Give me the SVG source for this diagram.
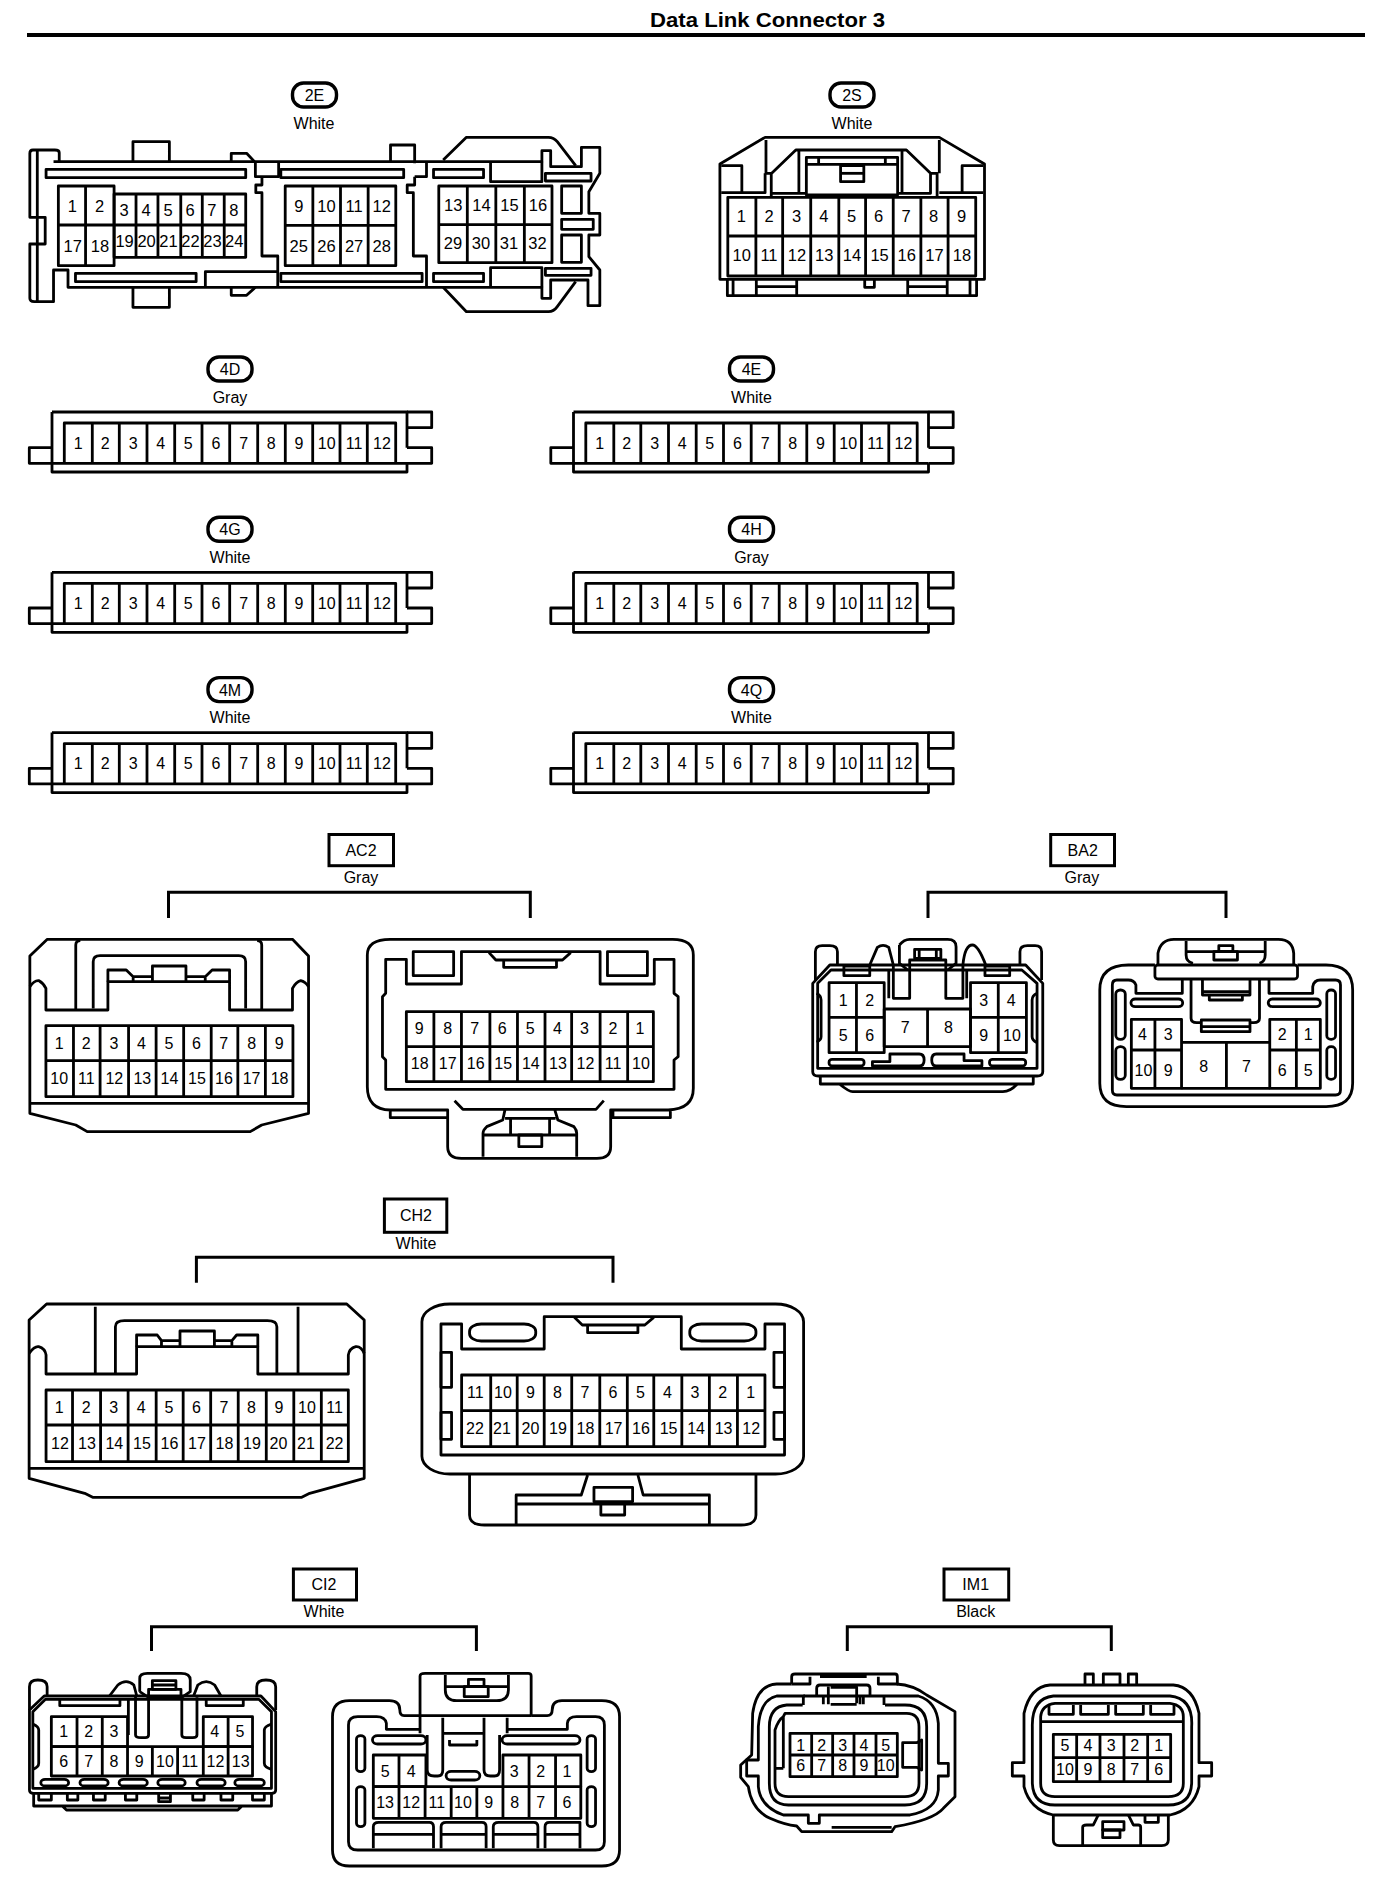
<svg xmlns="http://www.w3.org/2000/svg" width="1376" height="1884" viewBox="0 0 1376 1884">
<style>
.s,.s *{fill:none;stroke:#000;stroke-width:2.8;vector-effect:non-scaling-stroke;stroke-linejoin:round}
text{font-family:"Liberation Sans",Arial,sans-serif;fill:#000;text-anchor:middle;font-size:16px}
.m text{font-size:16.5px}
.h{font-weight:bold;font-size:21px}
.b{fill:none;stroke:#000;stroke-width:3.2}
.p{fill:none;stroke:#000;stroke-width:3.4}
.l{fill:none;stroke:#000;stroke-width:3}
</style>
<defs>
<g id="p12" class="s">
<path d="M52 412H407V447.7M407 463.300V472H52V412M52 447.700H29.300V463.300H407M64.300 463V423H395.700V463"/>
<path d="M92.300 423V463M119.300 423V463M147 423V463M174.700 423V463M202 423V463M229.700 423V463M257.700 423V463M285.300 423V463M312.700 423V463M340 423V463M367.300 423V463"/>
<path d="M407 412H431.700V427.700H407M407 447.700H431.700V463.300H407"/>
</g>
</defs>
<rect width="1376" height="1884" fill="#fff"/>
<g id="title">
<text class="h" x="767.500" y="27" textLength="235" lengthAdjust="spacingAndGlyphs">Data Link Connector 3</text>
<path d="M27 35H1365" stroke="#000" stroke-width="4" fill="none"/>
</g>
<g id="connectors">
<path class="l" d="M168.500 918V892.300H530.300V918"/>
<path class="l" d="M928 918V892.300H1226V918"/>
<path class="l" d="M196.400 1282.700V1257.300H613V1282.700"/>
<path class="l" d="M151.500 1651V1626.700H476.400V1651"/>
<path class="l" d="M847.300 1651V1626.700H1111.300V1651"/>
</g>

<g id="node-2E">
<rect class="p" x="292.500" y="83" width="44" height="24" rx="11"/>
<text x="314.500" y="101">2E</text><text x="314" y="129">White</text>
<g class="s" transform="scale(.43879 .33333)">
<path d="M135 488V458Q135 450 125 450H75Q68 450 68 460V652H103V732H68V895Q68 905 78 905H122V810H155V862H1235V895H1255V840H1340V917H1367V810L1342 770V705H1367V640H1342V575L1367 520V442H1325V500H1255V452H1235V485H122"/>
<path d="M85 452V905M303 485V425H386V485M890 485V435H945V490M527 485V460H562L582 488M303 862V922H386V862M527 862V886H562L582 862"/>
<rect x="105" y="508" width="455" height="25"/><rect x="640" y="508" width="280" height="25"/><rect x="988" y="508" width="114" height="25"/>
<rect x="172" y="820" width="275" height="25"/><rect x="640" y="820" width="322" height="25"/><rect x="988" y="820" width="114" height="25"/>
<path d="M582 488V530H635V485M597 530V555H583V578H597V768H633V862M945 530V555H928V578H942V768H972V862M972 485V530H945M468 862V815H633"/>
<rect x="133" y="558" width="127" height="239"/><rect x="260" y="582" width="300" height="190"/>
<path d="M133 675H560M195 558V797M310 582V772M360 582V772M412 582V772M461 582V772M511 582V772"/>
<rect x="650" y="558" width="252" height="239"/><path d="M650 676H902M713 558V797M776 558V797M839 558V797"/>
<rect x="1000" y="558" width="258" height="230"/><path d="M1000 674H1258M1065 558V788M1130 558V788M1195 558V788"/>
<path d="M1010 480L1063 412H1250Q1262 412 1270 425L1312 497M1010 862L1063 935H1250Q1262 935 1270 920L1312 845"/>
<path d="M1118 485V545H1235V485M1118 862V803H1235V862"/>
<rect x="1243" y="520" width="104" height="23"/><rect x="1243" y="805" width="104" height="21"/>
<rect x="1280" y="558" width="45" height="82"/><rect x="1280" y="658" width="72" height="30"/><rect x="1280" y="705" width="45" height="82"/>
</g>
<g class="m">
<text x="72.400" y="212">1</text><text x="99.600" y="212">2</text>
<text x="124.200" y="216">3</text><text x="146.100" y="216">4</text><text x="168" y="216">5</text><text x="190" y="216">6</text><text x="211.900" y="216">7</text><text x="233.900" y="216">8</text>
<text x="72.800" y="251.700">17</text><text x="100" y="251.700">18</text>
<text x="124.600" y="247.300">19</text><text x="146.600" y="247.300">20</text><text x="168.500" y="247.300">21</text><text x="190.400" y="247.300">22</text><text x="212.400" y="247.300">23</text><text x="234.300" y="247.300">24</text>
<text x="298.800" y="212">9</text><text x="326.500" y="212">10</text><text x="354.100" y="212">11</text><text x="381.700" y="212">12</text>
<text x="298.800" y="251.700">25</text><text x="326.500" y="251.700">26</text><text x="354.100" y="251.700">27</text><text x="381.700" y="251.700">28</text>
<text x="453.300" y="210.700">13</text><text x="481.400" y="210.700">14</text><text x="509.400" y="210.700">15</text><text x="538" y="210.700">16</text>
<text x="453" y="249">29</text><text x="481" y="249">30</text><text x="509" y="249">31</text><text x="537.500" y="249">32</text>
</g>
</g>

<g id="node-2S" transform="translate(-1 0)">
<rect class="p" x="831" y="83" width="44" height="24" rx="11"/>
<text x="853" y="101">2S</text><text x="853" y="129">White</text>
<g class="s" transform="translate(688 0) scale(.43879 .33333)">
<path d="M75 838V492L178 412H575L678 492V838Z"/>
<path d="M78 497H125V578M627 578V497H675M180 420V520H192V590M193 520L248 450H500L555 520H570V590M575 420V520M78 578H178V520M192 580H272M255 450V578M490 450V578M480 580H555V520M575 578H675"/>
<rect x="272" y="472" width="208" height="113"/><path d="M272 493H480M300 472V493M452 472V493"/>
<rect x="350" y="497" width="53" height="48"/><path d="M350 520H403"/>
<rect x="93" y="592" width="565" height="236"/><path d="M93 708H658M157 592V828M218 592V828M282 592V828M346 592V828M407 592V828M470 592V828M533 592V828M595 592V828"/>
<path d="M92 838V887H660V838M105 838V887M158 838V887M158 860H250M250 838V887M503 838V887M503 860H593M593 838V887M645 838V887M405 838V862H427V838"/>
</g>
<g class="m">
<text x="742.400" y="221.700">1</text><text x="770" y="221.700">2</text><text x="797.700" y="221.700">3</text><text x="824.900" y="221.700">4</text><text x="852.500" y="221.700">5</text><text x="879.700" y="221.700">6</text><text x="907" y="221.700">7</text><text x="934.600" y="221.700">8</text><text x="962.700" y="221.700">9</text>
<text x="742.800" y="260.700">10</text><text x="770" y="260.700">11</text><text x="798" y="260.700">12</text><text x="825.300" y="260.700">13</text><text x="853" y="260.700">14</text><text x="880.600" y="260.700">15</text><text x="907.800" y="260.700">16</text><text x="935.500" y="260.700">17</text><text x="963" y="260.700">18</text>
</g>
</g>

<g id="node-4D"><use href="#p12"/><rect class="p" x="208" y="357" width="44" height="24" rx="11"/><text x="230" y="375">4D</text><text x="230" y="402.500">Gray</text>
<g><text x="78.300" y="448.700">1</text><text x="105.300" y="448.700">2</text><text x="133.300" y="448.700">3</text><text x="160.700" y="448.700">4</text><text x="188.300" y="448.700">5</text><text x="216" y="448.700">6</text><text x="243.700" y="448.700">7</text><text x="271.300" y="448.700">8</text><text x="299" y="448.700">9</text><text x="326.700" y="448.700">10</text><text x="354" y="448.700">11</text><text x="382" y="448.700">12</text></g></g>
<g id="node-4E" transform="translate(521.500 0)"><use href="#p12"/><rect class="p" x="208" y="357" width="44" height="24" rx="11"/><text x="230" y="375">4E</text><text x="230" y="402.500">White</text>
<g><text x="78.300" y="448.700">1</text><text x="105.300" y="448.700">2</text><text x="133.300" y="448.700">3</text><text x="160.700" y="448.700">4</text><text x="188.300" y="448.700">5</text><text x="216" y="448.700">6</text><text x="243.700" y="448.700">7</text><text x="271.300" y="448.700">8</text><text x="299" y="448.700">9</text><text x="326.700" y="448.700">10</text><text x="354" y="448.700">11</text><text x="382" y="448.700">12</text></g></g>
<g id="node-4G" transform="translate(0 160.300)"><use href="#p12"/><rect class="p" x="208" y="357" width="44" height="24" rx="11"/><text x="230" y="375">4G</text><text x="230" y="402.500">White</text>
<g><text x="78.300" y="448.700">1</text><text x="105.300" y="448.700">2</text><text x="133.300" y="448.700">3</text><text x="160.700" y="448.700">4</text><text x="188.300" y="448.700">5</text><text x="216" y="448.700">6</text><text x="243.700" y="448.700">7</text><text x="271.300" y="448.700">8</text><text x="299" y="448.700">9</text><text x="326.700" y="448.700">10</text><text x="354" y="448.700">11</text><text x="382" y="448.700">12</text></g></g>
<g id="node-4H" transform="translate(521.500 160.300)"><use href="#p12"/><rect class="p" x="208" y="357" width="44" height="24" rx="11"/><text x="230" y="375">4H</text><text x="230" y="402.500">Gray</text>
<g><text x="78.300" y="448.700">1</text><text x="105.300" y="448.700">2</text><text x="133.300" y="448.700">3</text><text x="160.700" y="448.700">4</text><text x="188.300" y="448.700">5</text><text x="216" y="448.700">6</text><text x="243.700" y="448.700">7</text><text x="271.300" y="448.700">8</text><text x="299" y="448.700">9</text><text x="326.700" y="448.700">10</text><text x="354" y="448.700">11</text><text x="382" y="448.700">12</text></g></g>
<g id="node-4M" transform="translate(0 320.600)"><use href="#p12"/><rect class="p" x="208" y="357" width="44" height="24" rx="11"/><text x="230" y="375">4M</text><text x="230" y="402.500">White</text>
<g><text x="78.300" y="448.700">1</text><text x="105.300" y="448.700">2</text><text x="133.300" y="448.700">3</text><text x="160.700" y="448.700">4</text><text x="188.300" y="448.700">5</text><text x="216" y="448.700">6</text><text x="243.700" y="448.700">7</text><text x="271.300" y="448.700">8</text><text x="299" y="448.700">9</text><text x="326.700" y="448.700">10</text><text x="354" y="448.700">11</text><text x="382" y="448.700">12</text></g></g>
<g id="node-4Q" transform="translate(521.500 320.600)"><use href="#p12"/><rect class="p" x="208" y="357" width="44" height="24" rx="11"/><text x="230" y="375">4Q</text><text x="230" y="402.500">White</text>
<g><text x="78.300" y="448.700">1</text><text x="105.300" y="448.700">2</text><text x="133.300" y="448.700">3</text><text x="160.700" y="448.700">4</text><text x="188.300" y="448.700">5</text><text x="216" y="448.700">6</text><text x="243.700" y="448.700">7</text><text x="271.300" y="448.700">8</text><text x="299" y="448.700">9</text><text x="326.700" y="448.700">10</text><text x="354" y="448.700">11</text><text x="382" y="448.700">12</text></g></g>

<g id="node-AC2">
<rect class="l" x="329" y="834.500" width="64.500" height="31.200"/>
<text x="361" y="856">AC2</text><text x="361" y="883">Gray</text>
<g class="s" transform="translate(0 830) scale(.45915 .33333)">
<path d="M103 328H637L672 378V850L570 885L545 905H190L165 885L65 850V378Z"/>
<path d="M65 820H672M65 470Q75 450 85 452Q95 460 100 475V540H235V455H500V540H637V475Q645 455 655 452Q665 455 672 470M165 540V345Q165 332 175 332M570 540V345Q570 332 560 332M203 535V395Q203 377 218 377H520Q535 377 535 395V535"/>
<path d="M235 455V420H275L290 440H332V408H405V440H447L462 420H500V455M290 440V455M447 440V455M332 440V455M405 440V455"/>
<rect x="100" y="587" width="538" height="213"/><path d="M100 692H638M160 587V800M218 587V800M280 587V800M340 587V800M400 587V800M460 587V800M518 587V800M578 587V800"/>
<path d="M850 328H1465Q1510 328 1510 375V775Q1510 838 1455 840H1335V863H1460V840M1335 840H1330V950Q1330 985 1300 985H1005Q975 985 975 950V840H850Q800 838 800 770V375Q800 328 850 328M850 840V863H975"/>
<path d="M840 388H885V462H1005V365H1307V462H1425V388H1468V490L1477 500V680L1468 690V778H840V690L833 680V500L840 490Z"/>
<rect x="900" y="365" width="88" height="72"/><rect x="1323" y="365" width="87" height="72"/>
<path d="M1065 368L1080 390H1225L1243 368M1097 390V412H1212V390"/>
<rect x="885" y="545" width="538" height="210"/><path d="M885 650H1423M945 545V755M1005 545V755M1067 545V755M1127 545V755M1187 545V755M1245 545V755M1307 545V755M1367 545V755"/>
<path d="M990 812L1008 838H1298L1315 812M1100 838L1095 870L1060 890Q1052 900 1052 910V980M1208 838L1215 870L1250 890Q1256 900 1256 910V980M1052 915H1256M1112 865V915M1197 865V915M1100 865H1210"/>
<rect x="1130" y="915" width="50" height="35"/>
</g>
<g>
<text x="59.200" y="1049">1</text><text x="86.300" y="1049">2</text><text x="113.900" y="1049">3</text><text x="141.400" y="1049">4</text><text x="169" y="1049">5</text><text x="196.500" y="1049">6</text><text x="223.600" y="1049">7</text><text x="251.600" y="1049">8</text><text x="279.200" y="1049">9</text>
<text x="59.200" y="1084">10</text><text x="86.300" y="1084">11</text><text x="114.300" y="1084">12</text><text x="142.300" y="1084">13</text><text x="169.400" y="1084">14</text><text x="197" y="1084">15</text><text x="224" y="1084">16</text><text x="251.600" y="1084">17</text><text x="279.600" y="1084">18</text>
<text x="419.200" y="1034">9</text><text x="447.700" y="1034">8</text><text x="474.700" y="1034">7</text><text x="502.300" y="1034">6</text><text x="530.300" y="1034">5</text><text x="557.400" y="1034">4</text><text x="584.500" y="1034">3</text><text x="613" y="1034">2</text><text x="640" y="1034">1</text>
<text x="419.700" y="1069.300">18</text><text x="447.700" y="1069.300">17</text><text x="475.700" y="1069.300">16</text><text x="503.200" y="1069.300">15</text><text x="530.800" y="1069.300">14</text><text x="557.900" y="1069.300">13</text><text x="585.400" y="1069.300">12</text><text x="613" y="1069.300">11</text><text x="641" y="1069.300">10</text>
</g>
</g>

<g id="node-BA2" transform="translate(-1.500 0)">
<rect class="l" x="1052.200" y="834.500" width="63.800" height="31.200"/>
<text x="1084.200" y="856">BA2</text><text x="1083.400" y="883">Gray</text>
<g class="s" transform="translate(780 830) scale(.38023 .33333)">
<path d="M97 450V365Q97 347 115 347H135Q155 347 155 365V405M635 405V365Q635 347 655 347H675Q692 347 692 365V450"/>
<path d="M90 460V725Q90 738 105 738H680Q695 738 695 725V460L650 405H135ZM103 460L138 420H640L680 460V715H103Z"/>
<path d="M240 405L260 352Q275 340 290 352L302 405V505H345V390H440V505H485V405Q490 345 510 345Q525 345 545 405M290 420V505M495 420V505"/>
<path d="M318 345Q330 328 345 328H445Q467 328 467 350V400L445 420M318 345V400L340 420"/>
<rect x="358" y="358" width="69" height="27"/><path d="M370 358V385M415 358V385"/>
<rect x="172" y="408" width="68" height="29"/><rect x="543" y="408" width="65" height="29"/>
<rect x="133" y="458" width="145" height="210"/><path d="M133 562H278M205 458V668"/>
<rect x="505" y="458" width="147" height="210"/><path d="M505 562H652M578 458V668"/>
<rect x="278" y="537" width="227" height="113"/><path d="M392 537V650"/>
<path d="M100 490Q112 497 112 510V620Q112 630 100 636M680 490Q667 497 667 510V620Q667 630 680 638"/>
<rect x="133" y="688" width="92" height="20" rx="8"/><rect x="555" y="688" width="95" height="20" rx="8"/>
<path d="M247 708V695H293V672H370Q383 672 383 690Q383 708 370 708ZM403 690Q403 672 415 672H488V692H535V708H415Q403 708 403 690Z"/>
<path d="M110 740V762H670V740M160 762Q185 785 195 785H590Q610 785 628 762"/>
<path d="M990 405H920Q845 405 845 480V760Q845 830 915 830H1440Q1510 830 1510 760V480Q1510 405 1440 405H1365"/>
<rect x="990" y="405" width="375" height="42" rx="8"/>
<path d="M998 405V370Q1005 328 1040 328H1315Q1352 328 1355 370V405M1072 333V375Q1072 395 1090 400M1280 333V375Q1280 395 1265 400M1072 365H1280"/>
<rect x="1145" y="365" width="62" height="25"/><rect x="1158" y="347" width="37" height="18"/>
<path d="M1062 450V490H940V465Q935 450 920 450H890Q878 450 878 465V780Q878 795 890 795H1465Q1478 795 1478 780V465Q1478 450 1465 450H1425Q1408 450 1405 470V490H1290V450"/>
<rect x="887" y="480" width="25" height="148" rx="12"/><rect x="887" y="650" width="25" height="98" rx="12"/><rect x="1442" y="480" width="23" height="148" rx="11"/><rect x="1442" y="650" width="23" height="98" rx="11"/>
<rect x="927" y="507" width="136" height="23" rx="11"/><rect x="1288" y="507" width="137" height="23" rx="11"/>
<path d="M1085 450V565Q1085 578 1100 578H1112M1265 450V565Q1265 578 1250 578H1240M1115 450V495H1240V450M1115 485H1240M1133 497V510H1220V497"/>
<rect x="1112" y="570" width="128" height="35"/><path d="M1112 590H1240"/>
<rect x="928" y="568" width="132" height="207"/><path d="M928 660H1060M990 568V775"/>
<rect x="1292" y="568" width="133" height="207"/><path d="M1292 660H1425M1362 568V775"/>
<path d="M1060 637H1292M1060 775H1292M1178 637V775"/>
</g>
<g>
<text x="844.600" y="1005.700">1</text><text x="871.300" y="1005.700">2</text><text x="985.300" y="1005.700">3</text><text x="1012.700" y="1005.700">4</text>
<text x="844.600" y="1040.700">5</text><text x="871.300" y="1040.700">6</text><text x="985.300" y="1040.700">9</text><text x="1013.500" y="1040.700">10</text>
<text x="906.600" y="1033.300">7</text><text x="950" y="1033.300">8</text>
<text x="1143.900" y="1040">4</text><text x="1169.800" y="1040">3</text><text x="1283.800" y="1040">2</text><text x="1309.700" y="1040">1</text>
<text x="1145" y="1076">10</text><text x="1169.800" y="1076">9</text><text x="1283.800" y="1076">6</text><text x="1309.700" y="1076">5</text>
<text x="1205.100" y="1071.700">8</text><text x="1248" y="1071.700">7</text>
</g>
</g>

<g id="node-CH2">
<rect class="l" x="384.400" y="1199" width="62.400" height="33.300"/>
<text x="416" y="1221">CH2</text><text x="416" y="1249">White</text>
<g class="s" transform="translate(0 1190) scale(.52938 .33333)">
<path d="M88 342H655L688 390V865L585 910L570 922H175L160 910L55 865V390Z"/>
<path d="M55 835H688M55 490Q65 468 73 470Q85 475 87 495V552H258V470H487V552H658V495Q660 475 672 470Q682 468 688 490M180 552V350M563 552V350M218 552V410Q218 392 235 392H505Q523 392 523 410V552"/>
<path d="M258 470V435H297L305 452H340V423H405V452H438L447 435H487V470M305 452V470M438 452V470M340 452V470M405 452V470"/>
<rect x="87" y="600" width="571" height="215"/><path d="M87 705H658M137 600V815M190 600V815M242 600V815M295 600V815M346 600V815M398 600V815M450 600V815M503 600V815M555 600V815M607 600V815"/>
<rect x="797" y="342" width="721" height="510" rx="53"/>
<path d="M833 402H872V477H1028V380H1287V477H1445V402H1482V795H833Z"/>
<rect x="887" y="402" width="125" height="51" rx="22"/><rect x="1303" y="402" width="125" height="51" rx="22"/>
<path d="M1085 382L1100 405H1218L1235 382M1110 405V428H1205V405"/>
<rect x="833" y="487" width="20" height="105"/><rect x="833" y="667" width="20" height="81"/><rect x="1462" y="487" width="20" height="105"/><rect x="1462" y="667" width="20" height="81"/>
<rect x="872" y="555" width="573" height="215"/><path d="M872 662H1445M927 555V770M977 555V770M1028 555V770M1080 555V770M1133 555V770M1185 555V770M1235 555V770M1288 555V770M1340 555V770M1393 555V770"/>
<path d="M887 852V975Q887 1005 915 1005H1400Q1428 1005 1428 975V852M975 1005V915H1098L1110 855M1205 855L1215 915H1340V1005M975 942H1340"/>
<rect x="1122" y="892" width="73" height="43"/><rect x="1135" y="938" width="45" height="37"/>
</g>
<g>
<text x="59.300" y="1412.700">1</text><text x="86.300" y="1412.700">2</text><text x="113.800" y="1412.700">3</text><text x="141.300" y="1412.700">4</text><text x="168.900" y="1412.700">5</text><text x="196.400" y="1412.700">6</text><text x="223.900" y="1412.700">7</text><text x="251.500" y="1412.700">8</text><text x="279" y="1412.700">9</text><text x="307" y="1412.700">10</text><text x="334.600" y="1412.700">11</text>
<text x="60" y="1449.300">12</text><text x="87" y="1449.300">13</text><text x="114.300" y="1449.300">14</text><text x="141.900" y="1449.300">15</text><text x="169.400" y="1449.300">16</text><text x="196.900" y="1449.300">17</text><text x="224.500" y="1449.300">18</text><text x="252" y="1449.300">19</text><text x="278.500" y="1449.300">20</text><text x="306" y="1449.300">21</text><text x="334.600" y="1449.300">22</text>
<text x="475.400" y="1398.300">11</text><text x="502.900" y="1398.300">10</text><text x="530.400" y="1398.300">9</text><text x="557.400" y="1398.300">8</text><text x="585" y="1398.300">7</text><text x="613" y="1398.300">6</text><text x="640.500" y="1398.300">5</text><text x="667.500" y="1398.300">4</text><text x="695" y="1398.300">3</text><text x="722.600" y="1398.300">2</text><text x="750.700" y="1398.300">1</text>
<text x="474.900" y="1434.300">22</text><text x="501.900" y="1434.300">21</text><text x="530.400" y="1434.300">20</text><text x="558" y="1434.300">19</text><text x="585.500" y="1434.300">18</text><text x="613.600" y="1434.300">17</text><text x="641" y="1434.300">16</text><text x="668.600" y="1434.300">15</text><text x="696.100" y="1434.300">14</text><text x="723.600" y="1434.300">13</text><text x="751.200" y="1434.300">12</text>
</g>
</g>

<g id="node-CI2">
<rect class="l" x="293.400" y="1569" width="63.100" height="31"/>
<text x="324" y="1590">CI2</text><text x="324" y="1617">White</text>
<g class="s" transform="translate(0 1570) scale(.42088 .33333)">
<path d="M70 660V420L105 378H620L655 425V660Q655 670 645 670H80Q70 670 70 660ZM78 655V425L108 388H615L645 425V655Z"/>
<path d="M70 420V350Q70 330 90 330Q112 330 112 350V378M610 378V350Q610 330 632 330Q655 330 655 350V420"/>
<path d="M260 378L280 345Q300 325 318 345L325 378M322 378V495Q322 503 335 503H345Q353 503 353 495V382H432V495Q432 503 442 503H458Q468 503 468 495V382M460 378L470 345Q490 325 510 345L525 378M305 388V495"/>
<path d="M332 365V325Q332 310 350 310H430Q452 310 452 330V365L432 382M332 365L353 382M353 375V358H430V375"/>
<rect x="362" y="332" width="56" height="26"/><path d="M362 345H418M142 388V407H285V388M490 388V407H578V388"/>
<rect x="122" y="440" width="181" height="90"/><path d="M183 440V618M243 440V618"/>
<rect x="483" y="440" width="117" height="90"/>
<rect x="122" y="530" width="478" height="88"/><path d="M303 530V618M362 530V618M422 530V618M483 530V618M542 440V618"/>
<path d="M78 462Q92 470 92 480V580Q92 592 78 598M645 462Q628 470 628 480V580Q628 592 645 598"/>
<rect x="97" y="628" width="66" height="20" rx="10"/><rect x="190" y="628" width="67" height="20" rx="10"/><rect x="283" y="628" width="67" height="20" rx="10"/><rect x="375" y="628" width="65" height="20" rx="10"/><rect x="468" y="628" width="67" height="20" rx="10"/><rect x="558" y="628" width="70" height="20" rx="10"/>
<path d="M80 670V708H645V670M148 708L158 720H565L575 708"/>
<path d="M92 672V690H122V672M160 672V690H185V672M222 672V690H250V672M298 672V690H325V672M377 672V695H405V672M377 684H405M458 672V690H485V672M525 672V690H553V672M600 672V690H628V672"/>
<path d="M1000 437H960Q950 437 950 420Q950 392 925 392H830Q790 392 790 440V840Q790 888 830 888H1430Q1472 888 1472 840V440Q1472 392 1430 392H1335Q1312 392 1312 420Q1312 437 1300 437H1262"/>
<path d="M998 490V318Q998 310 1010 310H1255Q1262 310 1262 318V437M1058 315V360Q1058 392 1085 392H1180Q1208 392 1208 360V315M1058 350H1208M998 437H1262"/>
<rect x="1103" y="350" width="57" height="30"/><rect x="1113" y="328" width="37" height="22"/>
<path d="M998 478H918V460Q915 440 895 440H850Q828 440 828 465V815Q828 840 850 840H1415Q1436 840 1436 815V465Q1436 440 1415 440H1370Q1350 440 1348 460V478H1205"/>
<path d="M1015 495V600Q1015 618 1032 618H1040Q1052 618 1052 600V443M1150 443V600Q1150 618 1165 618H1175Q1187 618 1187 600V495M1205 443V490M1052 490H1150M1068 510V525H1133V510"/>
<rect x="885" y="497" width="127" height="25" rx="12"/><rect x="1193" y="497" width="185" height="25" rx="12"/><rect x="1060" y="604" width="80" height="26" rx="12"/>
<rect x="847" y="497" width="20" height="108" rx="10"/><rect x="847" y="650" width="20" height="120" rx="10"/><rect x="1395" y="497" width="20" height="108" rx="10"/><rect x="1395" y="650" width="20" height="120" rx="10"/>
<rect x="887" y="555" width="125" height="95"/><path d="M948 555V745"/>
<path d="M1195 650V555H1380V650M1257 555V745M1320 555V745"/>
<rect x="887" y="650" width="493" height="95"/><path d="M1010 650V745M1072 650V745M1133 650V745M1195 650V745"/>
<path d="M887 835V770Q887 757 900 757H1020Q1030 757 1030 770V835M1048 835V770Q1048 757 1060 757H1145Q1155 757 1155 770V835M1172 835V770Q1172 757 1185 757H1268Q1278 757 1278 770V835M1295 835V770Q1295 757 1305 757H1378V835M887 793H1030M1048 793H1155M1172 793H1278M1295 793H1378"/>
</g>
<g>
<text x="63.600" y="1736.700">1</text><text x="88.800" y="1736.700">2</text><text x="114" y="1736.700">3</text><text x="214.600" y="1736.700">4</text><text x="240" y="1736.700">5</text>
<text x="63.600" y="1766.700">6</text><text x="88.800" y="1766.700">7</text><text x="114" y="1766.700">8</text><text x="139.300" y="1766.700">9</text><text x="165" y="1766.700">10</text><text x="189.800" y="1766.700">11</text><text x="215.500" y="1766.700">12</text><text x="240.700" y="1766.700">13</text>
<text x="385.100" y="1776.700">5</text><text x="411.200" y="1776.700">4</text><text x="514.300" y="1776.700">3</text><text x="540.800" y="1776.700">2</text><text x="566.900" y="1776.700">1</text>
<text x="385.100" y="1808.300">13</text><text x="411.200" y="1808.300">12</text><text x="436.900" y="1808.300">11</text><text x="463" y="1808.300">10</text><text x="488.600" y="1808.300">9</text><text x="514.700" y="1808.300">8</text><text x="540.800" y="1808.300">7</text><text x="566.900" y="1808.300">6</text>
</g>
</g>

<g id="node-IM1">
<rect class="l" x="944" y="1569" width="64.700" height="31"/>
<text x="975.700" y="1590">IM1</text><text x="975.700" y="1617">Black</text>
<g class="s" transform="translate(720 1570) scale(.33333)">
<path d="M215 342H170Q110 345 98 430L95 555L62 585V622L85 650Q95 720 150 745Q195 765 230 768L245 785H515L525 770Q640 750 670 715L705 680V425L620 375Q580 345 530 342"/>
<path d="M215 342V320Q215 312 225 312H525Q532 312 532 320V342H475V320M270 320V342H215M300 320H440"/>
<path d="M255 378H170Q120 390 115 470V570H80V618H115V650Q120 710 190 735H265V760H298V735H570Q650 720 655 660V618H685V580H655V460Q650 395 595 378H495"/>
<path d="M248 405H200Q148 410 148 470V640Q148 705 205 705H555Q620 705 620 640V470Q620 405 555 405H495"/>
<path d="M190 595V440Q175 450 165 480V640Q165 680 205 680H555Q597 680 597 640V470Q597 430 560 430H195L190 440M190 595H165"/>
<path d="M290 378V355Q290 345 300 345H440Q450 345 450 355V378M250 378H495M250 378V405M492 378V405M310 378V403M325 350V403M332 352H410V400M332 378H410M332 403H410M420 378V403M430 378V403"/>
<rect x="210" y="490" width="322" height="130"/><path d="M210 555H532M275 490V620M338 490V620M402 490V620M468 490V620"/>
<path d="M548 518H590L605 510V600L590 592H548ZM335 772H515"/>
<path d="M990 345H1360Q1420 350 1437 430V578H1475V618H1437V650Q1420 720 1350 735H1000Q930 720 912 650V618H877V578H912V430Q930 350 990 345Z"/>
<path d="M1000 378H1350Q1420 385 1415 470V640Q1412 705 1345 705H1005Q940 705 937 640V470Q935 385 1000 378Z"/>
<path d="M1005 400H1350Q1390 405 1390 440V640Q1390 680 1345 680H1005Q962 680 962 640V440Q965 405 1005 400Z"/>
<path d="M987 405V433H1060V405M1082 405V433H1165V405M1187 405V433H1270V405M1292 405V433H1362V405M965 455H1390M1095 345V312H1120V345M1150 345V312H1200V345M1225 345V312H1250V345"/>
<rect x="1000" y="493" width="352" height="142"/><path d="M1000 563H1352M1070 493V635M1140 493V635M1212 493V635M1283 493V635"/>
<path d="M1000 735V810Q1000 827 1018 827H1325Q1345 827 1345 810V735M1088 827V772Q1088 765 1100 765H1120L1135 735M1225 735L1240 765H1255Q1262 765 1262 772V827M1275 735V757H1315V735"/>
<rect x="1148" y="755" width="64" height="25"/><rect x="1148" y="780" width="52" height="23"/>
</g>
<g>
<text x="800.700" y="1750.700">1</text><text x="821.700" y="1750.700">2</text><text x="842.700" y="1750.700">3</text><text x="864" y="1750.700">4</text><text x="885.700" y="1750.700">5</text>
<text x="800.700" y="1771">6</text><text x="821.700" y="1771">7</text><text x="842.700" y="1771">8</text><text x="864" y="1771">9</text><text x="885.700" y="1771">10</text>
<text x="1065" y="1751">5</text><text x="1088" y="1751">4</text><text x="1111.300" y="1751">3</text><text x="1134.700" y="1751">2</text><text x="1158.700" y="1751">1</text>
<text x="1065" y="1775">10</text><text x="1088" y="1775">9</text><text x="1111.300" y="1775">8</text><text x="1134.700" y="1775">7</text><text x="1158.700" y="1775">6</text>
</g>
</g>
</svg>
